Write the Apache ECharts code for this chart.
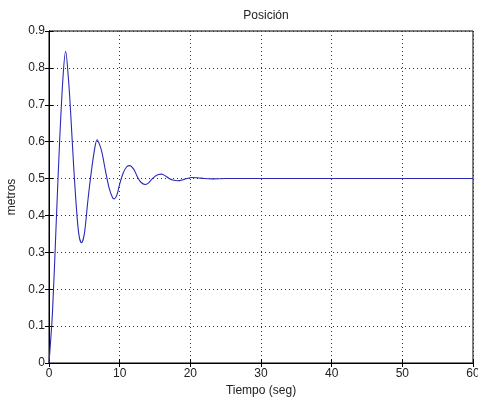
<!DOCTYPE html>
<html>
<head>
<meta charset="utf-8">
<script src="https://cdn.jsdelivr.net/npm/echarts@6/dist/echarts.min.js"></script>
<style>html,body{margin:0;padding:0;background:#fff;}#c{width:478px;height:401px;}</style>
</head>
<body>
<div id="c"></div>
<script>
const tiempo = [0,0.5,1.0,1.5,2.0,2.36,2.75,3.0,3.5,4.0,4.3,4.6,5.0,5.5,6.0,6.5,6.8,7.2,7.5,8.0,8.5,9.0,9.2,9.6,10.0,10.5,11.0,11.4,12.0,12.5,13.0,13.6,14.0,14.5,15.0,15.5,15.9,16.5,17.0,17.5,18.2,19.0,19.5,20.2,21,22,23,25,30,35,40,45,50,55,60];
const posicion = [0,0.14,0.37,0.60,0.78,0.845,0.77,0.70,0.53,0.39,0.34,0.326,0.35,0.44,0.52,0.585,0.605,0.59,0.57,0.52,0.475,0.448,0.445,0.455,0.485,0.515,0.532,0.535,0.525,0.505,0.49,0.484,0.487,0.497,0.506,0.511,0.512,0.507,0.500,0.496,0.494,0.497,0.500,0.503,0.502,0.500,0.499,0.500,0.500,0.500,0.500,0.500,0.500,0.500,0.500];
const titulo = 'Posición';
const etiquetaX = 'Tiempo (seg)';
const etiquetaY = 'metros';

const font = 'Liberation Sans, Arial, sans-serif';
const chart = echarts.init(document.getElementById('c'));
const baseAxis = {
  axisLine: {show: true, lineStyle: {color: '#000', width: 1}},
  axisTick: {show: true, inside: true, length: 4, lineStyle: {color: '#000'}},
};
chart.setOption({
  backgroundColor: '#fff',
  animation: false,
  title: {text: titulo, left: 261, top: 5, textAlign: 'center',
    textStyle: {fontFamily: font, fontSize: 12, fontWeight: 'normal', color: '#222'}},
  grid: {left: 49, right: 5, top: 31, bottom: 38, show: true, borderColor: '#000', borderWidth: 1,
    backgroundColor: '#fff', containLabel: false, outerBoundsMode: 'none'},
  xAxis: [
    Object.assign({}, baseAxis, {type: 'value', min: 0, max: 60, interval: 10, position: 'bottom',
      name: etiquetaX, nameLocation: 'middle', nameGap: 19,
      nameTextStyle: {fontFamily: font, fontSize: 12, color: '#222'},
      axisLabel: {fontFamily: font, fontSize: 12, color: '#222', margin: 5},
      splitLine: {show: true, lineStyle: {color: '#333', type: [1, 3], width: 1}}}),
    Object.assign({}, baseAxis, {type: 'value', min: 0, max: 60, interval: 10, position: 'top',
      axisLabel: {show: false}, splitLine: {show: false}})
  ],
  yAxis: [
    Object.assign({}, baseAxis, {type: 'value', min: 0, max: 0.9, interval: 0.1, position: 'left',
      name: etiquetaY, nameLocation: 'middle', nameGap: 29,
      nameTextStyle: {fontFamily: font, fontSize: 12, color: '#222'},
      axisLabel: {fontFamily: font, fontSize: 12, color: '#222', margin: 4,
        formatter: v => v === 0 ? '0' : v.toFixed(1)},
      splitLine: {show: true, lineStyle: {color: '#333', type: [1, 3], width: 1}}}),
    Object.assign({}, baseAxis, {type: 'value', min: 0, max: 0.9, interval: 0.1, position: 'right',
      axisLabel: {show: false}, splitLine: {show: false}})
  ],
  series: [{
    type: 'line', xAxisIndex: 0, yAxisIndex: 0,
    data: tiempo.map((t, i) => [t, posicion[i]]),
    smooth: 0.3, showSymbol: false,
    lineStyle: {color: '#2a2ab4', width: 1.1}
  }]
});
</script>
</body>
</html>
